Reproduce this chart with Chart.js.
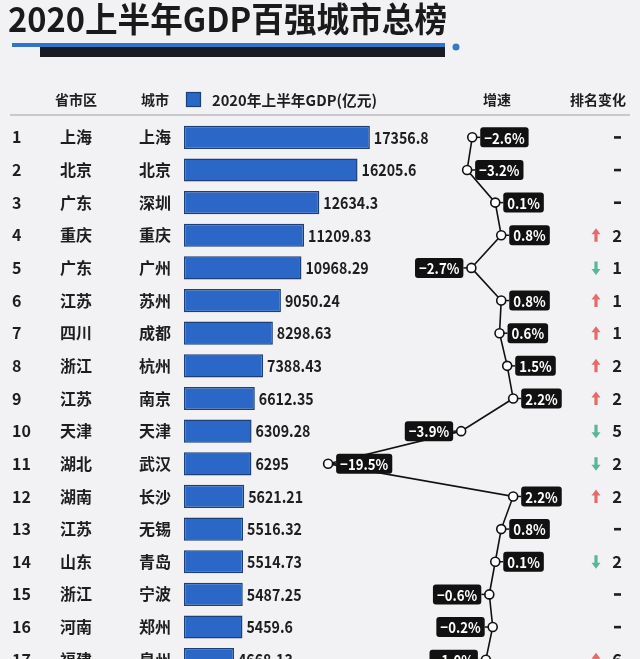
<!DOCTYPE html>
<html>
<head>
<meta charset="utf-8">
<script src="https://cdn.jsdelivr.net/npm/chart.js@4.4.0/dist/chart.umd.min.js"></script>
<style>
html, body { margin: 0; padding: 0; background: #f2f1f4; overflow: hidden; }
canvas { display: block; }
</style>
</head>
<body>
<canvas id="c" width="640" height="700"></canvas>
<script>
var ranks = [1, 2, 3, 4, 5, 6, 7, 8, 9, 10, 11, 12, 13, 14, 15, 16, 17];
var provinces = ['上海', '北京', '广东', '重庆', '广东', '江苏', '四川', '浙江', '江苏', '天津', '湖北', '湖南', '江苏', '山东', '浙江', '河南', '福建'];
var cities = ['上海', '北京', '深圳', '重庆', '广州', '苏州', '成都', '杭州', '南京', '天津', '武汉', '长沙', '无锡', '青岛', '宁波', '郑州', '泉州'];
var gdp = [17356.8, 16205.6, 12634.3, 11209.83, 10968.29, 9050.24, 8298.63, 7388.43, 6612.35, 6309.28, 6295, 5621.21, 5516.32, 5514.73, 5487.25, 5459.6, 4668.13];
var growth = [-2.6, -3.2, 0.1, 0.8, -2.7, 0.8, 0.6, 1.5, 2.2, -3.9, -19.5, 2.2, 0.8, 0.1, -0.6, -0.2, -1.0];
var rankChange = [0, 0, 0, 2, -1, 1, 1, 2, 2, -5, -2, 2, 0, -2, 0, 0, 6];
var headers = ['省市区', '城市', '2020年上半年GDP(亿元)', '增速', '排名变化'];
var title = '2020上半年GDP百强城市总榜';

// which side of the point each growth label sits on
var labelSide = ['r', 'r', 'r', 'r', 'l', 'r', 'r', 'r', 'r', 'l', 'r', 'r', 'r', 'r', 'l', 'l', 'l'];

var FONT = '"Noto Sans CJK SC", "Noto Sans", sans-serif';
var BG = '#f2f1f4';
var BAR = '#2b67c6';
var BAR_EDGE = '#1d3f78';
var TXT = '#1e1e1e';

function fmtPct(v) {
    var s = Math.abs(v).toFixed(1) + '%';
    return v < 0 ? '\u2212' + s : s;
}

function roundRect(ctx, x, y, w, h, r) {
    ctx.beginPath();
    ctx.moveTo(x + r, y);
    ctx.lineTo(x + w - r, y);
    ctx.quadraticCurveTo(x + w, y, x + w, y + r);
    ctx.lineTo(x + w, y + h - r);
    ctx.quadraticCurveTo(x + w, y + h, x + w - r, y + h);
    ctx.lineTo(x + r, y + h);
    ctx.quadraticCurveTo(x, y + h, x, y + h - r);
    ctx.lineTo(x, y + r);
    ctx.quadraticCurveTo(x, y, x + r, y);
    ctx.closePath();
}

// narrow text: draws s at x,y squeezed horizontally by k
function narrowText(ctx, s, x, y, k) {
    ctx.save();
    ctx.translate(x, y);
    ctx.scale(k, 1);
    ctx.fillText(s, 0, 0);
    ctx.restore();
}

function arrow(ctx, x, y, up, color) {
    var d = up ? -1 : 1;
    ctx.fillStyle = color;
    ctx.beginPath();
    ctx.moveTo(x, y + d * 7);
    ctx.lineTo(x - 4.5, y + d * 1);
    ctx.lineTo(x - 1.6, y + d * 1);
    ctx.lineTo(x - 1.6, y - d * 6.5);
    ctx.lineTo(x + 1.6, y - d * 6.5);
    ctx.lineTo(x + 1.6, y + d * 1);
    ctx.lineTo(x + 4.5, y + d * 1);
    ctx.closePath();
    ctx.fill();
}

var tablePlugin = {
    id: 'table',
    beforeDraw: function(chart) {
        var ctx = chart.ctx;
        ctx.save();
        ctx.fillStyle = BG;
        ctx.fillRect(0, 0, chart.width, chart.height);

        // title
        ctx.font = 'bold 34px ' + FONT;
        ctx.fillStyle = '#1a1a1a';
        ctx.textBaseline = 'middle';
        ctx.textAlign = 'left';
        var tw = ctx.measureText(title).width;
        narrowText(ctx, title, 8, 19, 439 / tw);

        // title underline
        ctx.fillStyle = '#3374c8';
        ctx.fillRect(12, 43, 433, 4);
        ctx.fillStyle = '#1c1a22';
        ctx.fillRect(40, 47, 405, 10);
        ctx.beginPath();
        ctx.arc(456, 47, 3.5, 0, Math.PI * 2);
        ctx.fillStyle = '#3a78c8';
        ctx.fill();

        // header row
        ctx.fillStyle = TXT;
        ctx.font = 'bold 14px ' + FONT;
        ctx.textAlign = 'center';
        ctx.fillText(headers[0], 76, 100);
        ctx.fillText(headers[1], 155, 100);
        ctx.fillText(headers[3], 497, 100);
        ctx.fillText(headers[4], 598, 100);
        ctx.fillStyle = BAR;
        ctx.fillRect(186.5, 92.5, 14, 14);
        ctx.strokeStyle = BAR_EDGE;
        ctx.lineWidth = 1.2;
        ctx.strokeRect(186.5, 92.5, 14, 14);
        ctx.fillStyle = TXT;
        ctx.textAlign = 'left';
        ctx.font = 'bold 15px ' + FONT;
        var hw = ctx.measureText(headers[2]).width;
        narrowText(ctx, headers[2], 212, 100, 165 / hw);

        ctx.strokeStyle = '#c9c8cd';
        ctx.lineWidth = 2;
        ctx.beginPath();
        ctx.moveTo(10, 115);
        ctx.lineTo(630, 115);
        ctx.stroke();
        ctx.restore();
    },
    afterDatasetsDraw: function(chart) {
        var ctx = chart.ctx;
        var ys = chart.scales.y, xs = chart.scales.x, gs = chart.scales.g;
        ctx.save();
        ctx.textBaseline = 'middle';
        for (var i = 0; i < ranks.length; i++) {
            var y = ys.getPixelForValue(i);
            ctx.fillStyle = TXT;
            ctx.font = 'bold 16px ' + FONT;
            ctx.textAlign = 'left';
            ctx.fillText(String(ranks[i]), 12, y);
            ctx.textAlign = 'center';
            ctx.fillText(provinces[i], 76, y);
            ctx.fillText(cities[i], 155, y);

            // value label
            ctx.textAlign = 'left';
            ctx.font = 'bold 16.5px ' + FONT;
            narrowText(ctx, String(gdp[i]), xs.getPixelForValue(gdp[i]) + 4, y, 0.86);

            // growth label box
            var px = gs.getPixelForValue(growth[i]);
            var txt = fmtPct(growth[i]);
            ctx.font = 'bold 15px ' + FONT;
            var w = ctx.measureText(txt).width * 0.88 + 8;
            var bx = labelSide[i] === 'r' ? px + 8 : px - 8 - w;
            ctx.strokeStyle = '#111';
            ctx.lineWidth = 1.5;
            ctx.beginPath();
            if (labelSide[i] === 'r') { ctx.moveTo(px + 4, y); ctx.lineTo(bx, y); }
            else { ctx.moveTo(px - 4, y); ctx.lineTo(bx + w, y); }
            ctx.stroke();
            ctx.fillStyle = '#111';
            roundRect(ctx, bx, y - 10, w, 20, 3);
            ctx.fill();
            ctx.fillStyle = '#fff';
            ctx.textAlign = 'left';
            narrowText(ctx, txt, bx + 4, y + 0.5, 0.88);

            // rank change
            var rc = rankChange[i];
            if (rc === 0) {
                ctx.fillStyle = TXT;
                ctx.fillRect(614, y - 1.2, 7, 2.6);
            } else {
                arrow(ctx, 596, y, rc > 0, rc > 0 ? '#e36b6b' : '#5bb597');
                ctx.fillStyle = TXT;
                ctx.font = 'bold 16.5px ' + FONT;
                ctx.textAlign = 'center';
                ctx.fillText(String(Math.abs(rc)), 617, y);
            }
        }
        ctx.restore();
    }
};

new Chart(document.getElementById('c'), {
    type: 'bar',
    data: {
        labels: cities,
        datasets: [{
            type: 'line',
            data: growth,
            xAxisID: 'g',
            yAxisID: 'y',
            indexAxis: 'y',
            borderColor: '#111',
            borderWidth: 1.6,
            tension: 0,
            fill: false,
            pointRadius: 4.5,
            pointBackgroundColor: '#fff',
            pointBorderColor: '#111',
            pointBorderWidth: 1.6,
            order: 0
        }, {
            type: 'bar',
            data: gdp,
            xAxisID: 'x',
            yAxisID: 'y',
            backgroundColor: BAR,
            borderColor: BAR_EDGE,
            borderWidth: 1.5,
            borderSkipped: false,
            barPercentage: 0.71,
            categoryPercentage: 1,
            order: 1
        }]
    },
    options: {
        indexAxis: 'y',
        responsive: false,
        animation: false,
        events: [],
        layout: { padding: { left: 184, right: 10, top: 121, bottom: 24 } },
        plugins: { legend: { display: false }, tooltip: { enabled: false } },
        scales: {
            y: { type: 'category', display: false, offset: true },
            x: { type: 'linear', display: false, min: 0, max: 41650 },
            g: { type: 'linear', display: false, min: -36.4, max: 15.9 }
        }
    },
    plugins: [tablePlugin]
});
</script>
</body>
</html>
